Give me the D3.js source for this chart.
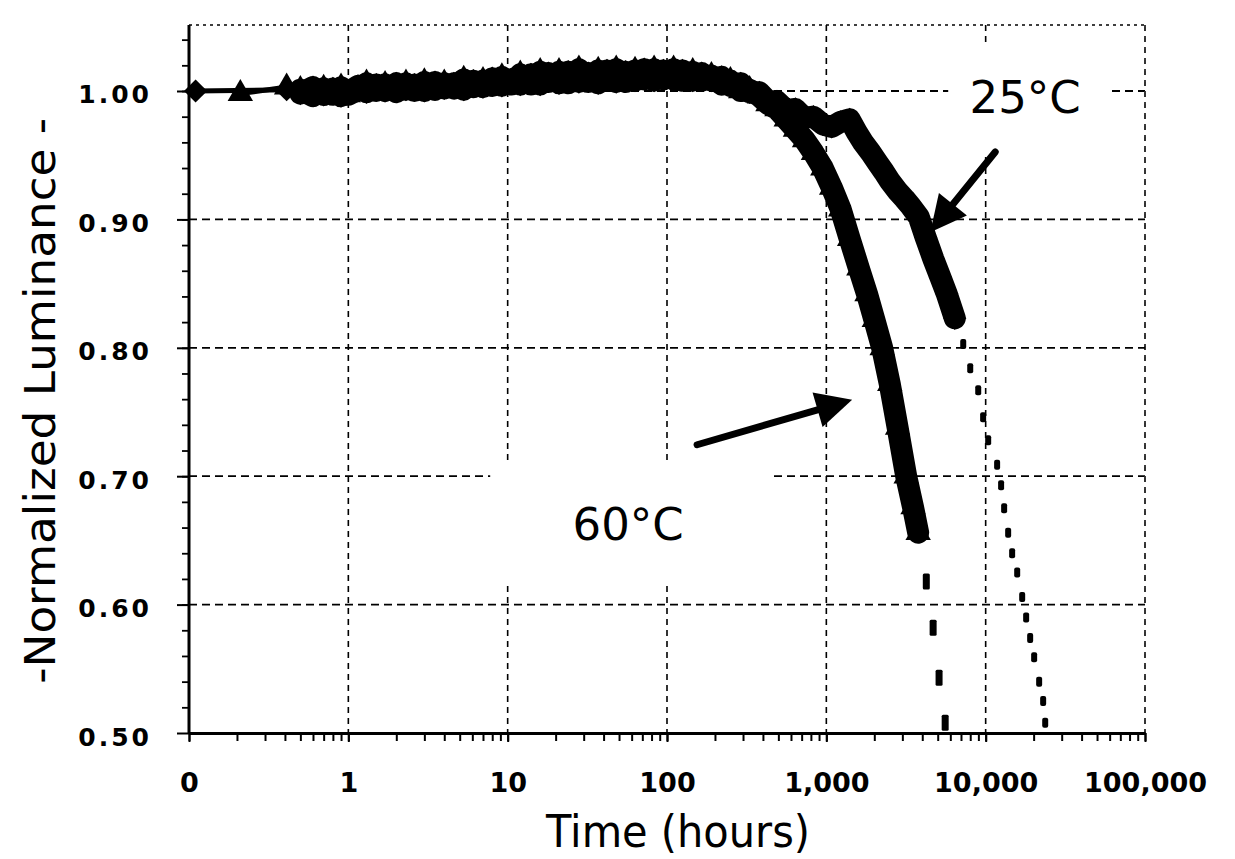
<!DOCTYPE html>
<html>
<head>
<meta charset="utf-8">
<script src="https://cdn.jsdelivr.net/npm/d3@7"></script>
<style>
  body { margin: 0; background: #fff; }
  #chart { width: 1235px; height: 859px; }
</style>
</head>
<body>
<div id="chart"></div>
<script>
// Values

// 25°C run (diamonds)
var hours25 = [0.11, 0.41, 0.5, 0.6, 0.7, 0.8, 0.9, 1.0, 1.15, 1.3, 1.5, 1.7, 2.0, 2.3, 2.6, 3.0, 3.5, 4.0, 4.6, 5.3,
  6.1, 7.0, 8.0, 9.2, 10.5, 12, 14, 16, 18, 21, 24, 28, 32, 37, 42, 48, 55, 63, 72, 83, 95, 110, 125, 145, 165,
  190, 220, 250, 290, 330, 380, 430, 490, 560, 640, 730, 830, 950, 1080, 1230, 1400, 1550, 1700, 1900, 2100,
  2300, 2500, 2800, 3100, 3400, 3800, 4200, 4700, 5200, 5700, 6400];
var lum25 = [1.000, 1.001, 0.998, 1.003, 0.997, 1.002, 0.996, 0.999, 1.004, 0.999, 1.005, 1.000, 1.006, 1.001, 1.005, 1.000, 1.007, 1.002, 1.006, 1.001,
  1.008, 1.003, 1.010, 1.004, 1.009, 1.005, 1.013, 1.005, 1.014, 1.006, 1.015, 1.007, 1.014, 1.006, 1.016, 1.007, 1.015, 1.008, 1.017, 1.008, 1.016, 1.009, 1.016, 1.008, 1.014,
  1.008, 1.011, 1.004, 1.006, 0.999, 0.999, 0.992, 0.992, 0.985, 0.986, 0.979, 0.980, 0.974, 0.972, 0.976, 0.978, 0.968, 0.960, 0.952, 0.944,
  0.937, 0.930, 0.922, 0.916, 0.910, 0.902, 0.886, 0.869, 0.855, 0.842, 0.823];

// 60°C run (triangles)
var hours60 = [0.21, 0.41, 0.5, 0.6, 0.7, 0.8, 0.9, 1.0, 1.15, 1.3, 1.5, 1.7, 2.0, 2.3, 2.6, 3.0, 3.5, 4.0, 4.6, 5.3,
  6.1, 7.0, 8.0, 9.2, 10.5, 12, 14, 16, 18, 21, 24, 28, 32, 37, 42, 48, 55, 63, 72, 83, 95, 110, 125, 145, 165,
  190, 220, 250, 290, 330, 380, 430, 490, 560, 640, 730, 830, 950, 1080, 1230, 1400, 1600, 1800, 2000, 2240,
  2500, 2800, 3170, 3500, 3770];
var lum60 = [0.998, 1.003, 1.001, 0.996, 1.002, 0.997, 1.003, 0.997, 1.001, 1.006, 1.000, 1.005, 0.999, 1.006, 1.000, 1.007, 1.001, 1.006, 1.002, 1.009,
  1.003, 1.008, 1.004, 1.011, 1.005, 1.013, 1.005, 1.015, 1.007, 1.015, 1.006, 1.017, 1.007, 1.016, 1.008, 1.017, 1.007, 1.016, 1.009, 1.017, 1.009, 1.017, 1.008, 1.015, 1.008,
  1.012, 1.005, 1.008, 1.000, 1.001, 0.996, 0.990, 0.986, 0.978, 0.970, 0.962, 0.952, 0.940, 0.925, 0.908, 0.885, 0.862, 0.842, 0.822, 0.800,
  0.772, 0.738, 0.700, 0.676, 0.656];

// dotted extrapolations to 0.50
var extHours25 = [7230, 8000, 8980, 9640, 10370, 11800, 12500, 13060, 13840, 14660, 15770, 16950, 17950, 19020, 20150, 21660, 22950, 23640];
var extLum25 = [0.803, 0.784, 0.767, 0.746, 0.728, 0.709, 0.693, 0.675, 0.656, 0.640, 0.625, 0.606, 0.590, 0.574, 0.559, 0.540, 0.525, 0.508];
var extHours60 = [4240, 4680, 5100, 5570];
var extLum60 = [0.618, 0.582, 0.543, 0.508];

var xTickValues = [0.1, 1, 10, 100, 1000, 10000, 100000];
var xTickLabels = ["0", "1", "10", "100", "1,000", "10,000", "100,000"];
var yTickValues = [0.5, 0.6, 0.7, 0.8, 0.9, 1.0];
var yTickLabels = ["0.50", "0.60", "0.70", "0.80", "0.90", "1.00"];

// Dimensions
var margin = {top: 25, right: 90, bottom: 126, left: 189},
    width = 1235 - margin.left - margin.right,
    height = 859 - margin.top - margin.bottom;

var svg = d3.select("#chart")
  .append("svg")
  .attr("width", width + margin.left + margin.right)
  .attr("height", height + margin.top + margin.bottom)
  .append("g")
  .attr("transform", "translate(" + margin.left + "," + margin.top + ")");

var x = d3.scaleLog().domain([0.1, 100000]).range([0, width]);
var y = d3.scaleLinear().domain([0.5, 1.0514]).range([height, 0]);

// Gridlines
svg.selectAll(".vgrid")
  .data(xTickValues.slice(1))
  .enter().append("line")
  .attr("x1", function(d) { return x(d); })
  .attr("x2", function(d) { return x(d); })
  .attr("y1", 0).attr("y2", height)
  .attr("stroke", "#000").attr("stroke-width", 1.6)
  .attr("stroke-dasharray", "6,5");

svg.selectAll(".hgrid")
  .data(yTickValues.slice(1))
  .enter().append("line")
  .attr("x1", 0).attr("x2", width)
  .attr("y1", function(d) { return y(d); })
  .attr("y2", function(d) { return y(d); })
  .attr("stroke", "#000").attr("stroke-width", 1.8)
  .attr("stroke-dasharray", "8,5");

// dotted frame top and right
svg.append("line").attr("x1", 0).attr("x2", width).attr("y1", 0).attr("y2", 0)
  .attr("stroke", "#000").attr("stroke-width", 1.5).attr("stroke-dasharray", "3,4");
svg.append("line").attr("x1", width).attr("x2", width).attr("y1", 0).attr("y2", height)
  .attr("stroke", "#444").attr("stroke-width", 1.2).attr("stroke-dasharray", "2,9");

// white boxes behind the labels (they hide the grid)
var boxes = [
  {t0: 7.77, t1: 457, v0: 0.709, v1: 0.618},
  {t0: 5820, t1: 57900, v0: 1.038, v1: 0.950}
];
svg.selectAll(".labelbox")
  .data(boxes)
  .enter().append("rect")
  .attr("x", function(d) { return x(d.t0); })
  .attr("y", function(d) { return y(d.v0); })
  .attr("width", function(d) { return x(d.t1) - x(d.t0); })
  .attr("height", function(d) { return y(d.v1) - y(d.v0); })
  .attr("fill", "#fff");

// Axes
var xAxis = svg.append("g")
  .attr("transform", "translate(0," + height + ")")
  .call(d3.axisBottom(x)
    .tickValues(xTickValues)
    .tickFormat(function(d, i) { return xTickLabels[i]; })
    .tickSize(9).tickSizeOuter(0));
xAxis.select(".domain").attr("stroke-width", 3);
xAxis.selectAll(".tick line").attr("stroke-width", 2);
xAxis.selectAll("text")
  .attr("y", 59).attr("dy", 0)
  .style("font-family", "'DejaVu Sans', Verdana, sans-serif")
  .style("font-weight", "bold")
  .style("font-size", "27px")
  .attr("fill", "#000");

svg.append("g")
  .attr("transform", "translate(0," + height + ")")
  .call(d3.axisBottom(x).tickValues(x.ticks()).tickFormat("").tickSize(8).tickSizeOuter(0))
  .call(function(g) { g.select(".domain").remove(); })
  .selectAll(".tick line").attr("stroke-width", 2);

var yAxis = svg.append("g")
  .call(d3.axisLeft(y)
    .tickValues(yTickValues)
    .tickFormat(function(d, i) { return yTickLabels[i]; })
    .tickSize(12).tickSizeOuter(0));
yAxis.select(".domain").attr("d", "M0,0V" + height).attr("stroke-width", 3);
yAxis.selectAll(".tick line").attr("stroke-width", 2);
yAxis.selectAll("text")
  .attr("x", -37).attr("y", 12).attr("dy", 0)
  .style("font-family", "'DejaVu Sans', Verdana, sans-serif")
  .style("font-weight", "bold")
  .style("font-size", "25px")
  .style("letter-spacing", "3px")
  .attr("fill", "#000");

svg.append("g")
  .call(d3.axisLeft(y).tickValues(d3.range(0.52, 1.05, 0.02)).tickFormat("").tickSize(7).tickSizeOuter(0))
  .call(function(g) { g.select(".domain").remove(); })
  .selectAll(".tick line").attr("stroke-width", 1.8);

// Series
function rows(hours, lum) {
  return hours.map(function(h, i) { return {hours: h, lum: lum[i]}; });
}
var data25 = rows(hours25, lum25);
var data60 = rows(hours60, lum60);

var line = d3.line()
  .x(function(d) { return x(d.hours); })
  .y(function(d) { return y(d.lum); });

[data25, data60].forEach(function(data) {
  svg.append("path").datum(data)
    .attr("d", line).attr("fill", "none").attr("stroke", "#000").attr("stroke-width", 5);
  svg.append("path").datum(data.filter(function(d) { return d.hours >= 0.45; }))
    .attr("d", line).attr("fill", "none").attr("stroke", "#000")
    .attr("stroke-width", 22).attr("stroke-linejoin", "round").attr("stroke-linecap", "round");
});

svg.selectAll(".m25")
  .data(data25)
  .enter().append("path")
  .attr("d", d3.symbol(d3.symbolSquare, 270))
  .attr("transform", function(d) { return "translate(" + x(d.hours) + "," + y(d.lum) + ") rotate(45)"; })
  .attr("fill", "#000");

svg.selectAll(".m60")
  .data(data60)
  .enter().append("path")
  .attr("d", d3.symbol(d3.symbolTriangle, 280))
  .attr("transform", function(d) { return "translate(" + x(d.hours) + "," + y(d.lum) + ")"; })
  .attr("fill", "#000");

// Extrapolated (dotted) parts
svg.selectAll(".e25")
  .data(rows(extHours25, extLum25))
  .enter().append("rect")
  .attr("x", function(d) { return x(d.hours) - 3; })
  .attr("y", function(d) { return y(d.lum) - 5; })
  .attr("width", 6).attr("height", 10).attr("rx", 2)
  .attr("fill", "#000");

svg.selectAll(".e60")
  .data(rows(extHours60, extLum60))
  .enter().append("rect")
  .attr("x", function(d) { return x(d.hours) - 3.5; })
  .attr("y", function(d) { return y(d.lum) - 8; })
  .attr("width", 7).attr("height", 16).attr("rx", 1.5)
  .attr("fill", "#000");

// Arrows and labels
var arrows = [
  {t0: 11480, v0: 0.9525, t1: 4490, v1: 0.890},
  {t0: 154.5, v0: 0.7245, t1: 1452, v1: 0.7595}
];
arrows.forEach(function(a) {
  var x0 = x(a.t0), y0 = y(a.v0), x1 = x(a.t1), y1 = y(a.v1);
  var ang = Math.atan2(y1 - y0, x1 - x0);
  var len = 36, half = 18;
  var bx = x1 - len * Math.cos(ang), by = y1 - len * Math.sin(ang);
  svg.append("line")
    .attr("x1", x0).attr("y1", y0).attr("x2", bx).attr("y2", by)
    .attr("stroke", "#000").attr("stroke-width", 7).attr("stroke-linecap", "round");
  svg.append("path")
    .attr("d", "M" + x1 + "," + y1 +
      "L" + (bx + half * Math.sin(ang)) + "," + (by - half * Math.cos(ang)) +
      "L" + (bx - half * Math.sin(ang)) + "," + (by + half * Math.cos(ang)) + "Z")
    .attr("fill", "#000");
});

var labels = [
  {text: "25°C", t: 17700, v: 0.983},
  {text: "60°C", t: 57, v: 0.6506}
];
svg.selectAll(".temp")
  .data(labels)
  .enter().append("text")
  .attr("x", function(d) { return x(d.t); })
  .attr("y", function(d) { return y(d.v); })
  .attr("text-anchor", "middle")
  .style("font-family", "'DejaVu Sans', Verdana, sans-serif")
  .style("font-size", "45px")
  .attr("fill", "#000")
  .text(function(d) { return d.text; });

// Axis titles
svg.append("text")
  .attr("x", x(100) + 11)
  .attr("y", height + 114)
  .attr("text-anchor", "middle")
  .attr("textLength", 264)
  .attr("lengthAdjust", "spacingAndGlyphs")
  .style("font-family", "'DejaVu Sans', Verdana, sans-serif")
  .style("font-size", "45px")
  .attr("fill", "#000")
  .text("Time (hours)");

svg.append("text")
  .attr("transform", "translate(" + (-134) + "," + (y(0.8) + 53) + ") rotate(-90)")
  .attr("text-anchor", "middle")
  .attr("textLength", 566)
  .attr("lengthAdjust", "spacingAndGlyphs")
  .style("font-family", "'DejaVu Sans', Verdana, sans-serif")
  .style("font-size", "42px")
  .attr("fill", "#000")
  .text("-Normalized Luminance -");
</script>
</body>
</html>
